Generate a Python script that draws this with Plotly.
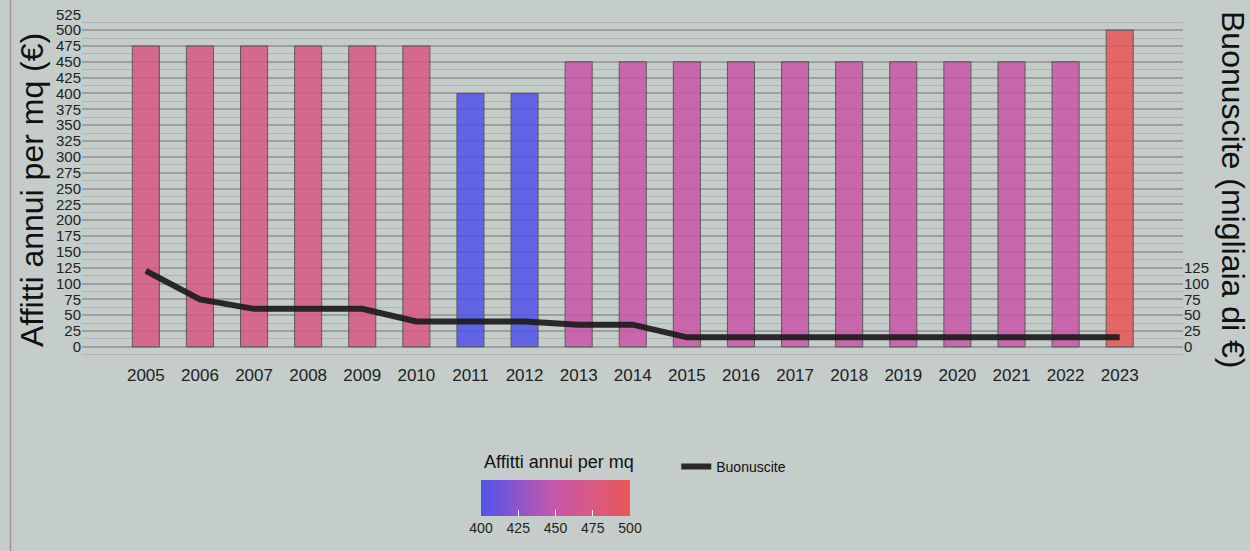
import plotly.graph_objects as go

years = list(range(2005, 2024))
affitti = [475, 475, 475, 475, 475, 475, 400, 400, 450, 450, 450, 450, 450, 450, 450, 450, 450, 450, 500]
buonuscite = [120, 75, 60, 60, 60, 40, 40, 40, 35, 35, 15, 15, 15, 15, 15, 15, 15, 15, 15]
y_left_ticks = list(range(0, 526, 25))
y_right_ticks = list(range(0, 126, 25))
cbar_ticks = [400, 425, 450, 475, 500]

BG = "#c4cdc9"
FONT = "Liberation Sans, Arial, sans-serif"

# plot area in pixels (for converting layout positions to paper coords)
PL, PR, PT, PB = 82, 1183, 14, 363
PW, PH = PR - PL, PB - PT


def px_x(px):
    return (px - PL) / PW


def px_y(py):
    return (PB - py) / PH


colorscale = [
    [0.0, "#5153ea"],
    [0.5, "#c957a8"],
    [0.75, "#d75984"],
    [1.0, "#e95756"],
]

fig = go.Figure()

fig.add_trace(go.Bar(
    x=years, y=affitti, width=0.5,
    marker=dict(
        color=affitti, colorscale=colorscale, cmin=400, cmax=500,
        line=dict(color="#4a4a4a", width=1),
        opacity=0.86,
        showscale=True,
        colorbar=dict(
            orientation="h",
            xref="paper", x=px_x(481), xanchor="left",
            yref="paper", y=px_y(480), yanchor="top",
            len=149, lenmode="pixels",
            thickness=36, thicknessmode="pixels",
            xpad=0, ypad=0,
            outlinewidth=0,
            tickvals=cbar_ticks,
            ticks="inside", tickcolor="white", ticklen=6, tickwidth=1,
            tickfont=dict(size=14, color="#222"),
        ),
    ),
    showlegend=False,
    hoverinfo="x+y",
))

fig.add_trace(go.Scatter(
    x=years, y=buonuscite, yaxis="y2", mode="lines",
    line=dict(color="#1c1c1c", width=6),
    opacity=0.92,
    name="Buonuscite",
))

yr = [-25.5, 525.5]
fig.update_layout(
    width=1250, height=551, autosize=False,
    paper_bgcolor=BG, plot_bgcolor=BG,
    margin=dict(l=PL, r=1250 - PR, t=PT, b=551 - PB, autoexpand=False),
    font=dict(family=FONT, color="#222"),
    showlegend=True,
    legend=dict(
        xref="container", x=0.541, xanchor="left",
        yref="container", y=1 - 467 / 551, yanchor="middle",
        bgcolor="rgba(0,0,0,0)", font=dict(size=14, color="#111"),
    ),
    xaxis=dict(
        range=[2003.82, 2024.17], tickvals=years, showgrid=False,
        zeroline=False, showline=False, ticks="", tickangle=0,
        tickfont=dict(size=17, color="#222"),
    ),
    yaxis=dict(
        range=yr, tickvals=y_left_ticks, zeroline=False, showline=False,
        showgrid=True, gridcolor="#9e9e9e", gridwidth=1.6,
        ticks="", tickfont=dict(size=15, color="#222"),
        minor=dict(tickmode="linear", tick0=0, dtick=12.5, showgrid=True,
                   gridcolor="#b2b4b3", gridwidth=1.2),
    ),
    yaxis2=dict(
        range=yr, tickvals=y_right_ticks, overlaying="y", side="right",
        showgrid=False, zeroline=False, showline=False, ticks="",
        tickfont=dict(size=15, color="#222"),
    ),
    annotations=[
        dict(text="Affitti annui per mq (€)", xref="paper", yref="paper",
             x=px_x(32), y=px_y(190), showarrow=False,
             textangle=-90, xanchor="center", yanchor="middle",
             font=dict(size=32, color="#111")),
        dict(text="Buonuscite (migliaia di €)", xref="paper", yref="paper",
             x=px_x(1233), y=px_y(190), showarrow=False,
             textangle=90, xanchor="center", yanchor="middle",
             font=dict(size=32, color="#111")),
        dict(text="Affitti annui per mq", xref="paper", yref="paper",
             x=px_x(482), y=px_y(462), showarrow=False,
             xanchor="left", yanchor="middle",
             font=dict(size=18, color="#111")),
    ],
    shapes=[
        dict(type="line", xref="paper", yref="paper",
             x0=px_x(10.5), x1=px_x(10.5),
             y0=px_y(551), y1=px_y(0),
             line=dict(color="#a8909c", width=1.5)),
    ],
)

fig.write_html("out.html",
               config={"displayModeBar": False},
               post_script="document.body.style.margin='0';document.body.style.padding='0';")
